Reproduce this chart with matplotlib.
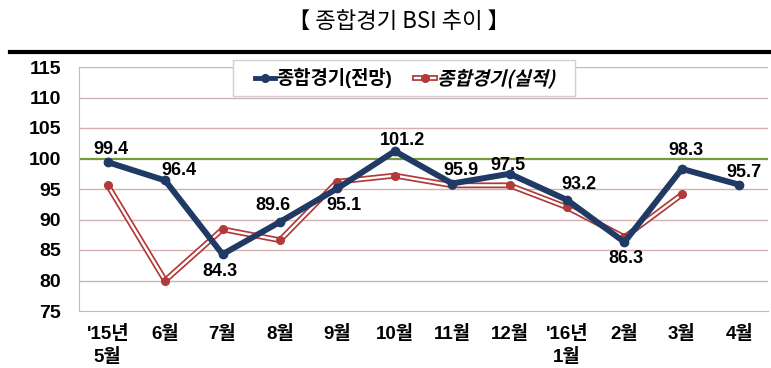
import matplotlib
matplotlib.use("Agg")
import matplotlib.pyplot as plt
from matplotlib.lines import Line2D
from matplotlib.patches import Rectangle, PathPatch
from matplotlib.textpath import TextPath
from matplotlib.font_manager import FontProperties
from matplotlib.transforms import Affine2D

plt.rcParams['font.family'] = ['Liberation Sans', 'Noto Sans CJK KR']

categories = ["'15년\n5월", "6월", "7월", "8월", "9월", "10월", "11월", "12월", "'16년\n1월", "2월", "3월", "4월"]
forecast = [99.4, 96.4, 84.3, 89.6, 95.1, 101.2, 95.9, 97.5, 93.2, 86.3, 98.3, 95.7]
actual = [95.6, 80.0, 88.4, 86.6, 96.2, 97.2, 95.6, 95.6, 92.0, 87.1, 94.1]
yticks = [75, 80, 85, 90, 95, 100, 105, 110, 115]
series_names = ["종합경기(전망)", "종합경기(실적)"]
title = "【 종합경기 BSI 추이 】"

# label offsets in pixels (style)
label_offsets = [(3, 13), (14, 10), (-3, -17), (-7, 16), (7, -17), (8, 11),
                 (9, 13), (-2, 8), (12, 15), (1, -16), (4, 18), (5, 12)]

W, H = 771, 368
fig = plt.figure(figsize=(W / 100, H / 100), dpi=100)
ax = fig.add_axes([79 / W, 1 - 311 / H, (768 - 79) / W, (311 - 67) / H])


def fx(px):
    return px / W


def fy(py):
    return 1 - py / H


x = list(range(len(categories)))
navy = '#1F3A64'
red = '#B23A3A'
grid_c = '#D6B0B0'

ax.set_xlim(-0.5, len(categories) - 0.5)
ax.set_ylim(75, 115)
ax.set_yticks(yticks)
for v in yticks[1:]:
    if v == 100:
        continue
    ax.axhline(v, color=grid_c, lw=1.0, zorder=1)
ax.axhline(100, color='#7A9A3A', lw=1.6, zorder=2)

for s in ['top', 'right']:
    ax.spines[s].set_visible(False)
ax.spines['left'].set_color('#BBBBBB')
ax.spines['bottom'].set_color('#BBBBBB')
ax.tick_params(length=0)
ax.tick_params(axis='y', pad=13)
ax.tick_params(axis='x', pad=10)
ax.set_yticklabels([str(v) for v in yticks], fontsize=14, fontweight='bold')
ax.set_xticks(x)
ax.set_xticklabels(categories, fontsize=13.5, fontweight='bold', linespacing=1.4)
for lbl in ax.get_xticklabels():
    lbl.set_verticalalignment('top')

xa = x[:len(actual)]
ax.plot(xa, actual, color=red, lw=4.2, zorder=3, solid_joinstyle='miter')
ax.plot(xa, actual, color='white', lw=1.7, zorder=4, solid_joinstyle='miter')
ax.plot(xa, actual, ls='none', marker='o', ms=5.5, color=red, zorder=5)

ax.plot(x, forecast, color=navy, lw=4.3, marker='o', ms=6, zorder=6)

for xi, v, (dx, dy) in zip(x, forecast, label_offsets):
    ax.annotate(f"{v:.1f}", (xi, v), xytext=(dx, dy), textcoords='offset pixels',
                ha='center', va='center', fontsize=13, fontweight='bold', zorder=7)

# legend drawn manually
lx0, lx1, ly0, ly1 = 233, 575, 60, 96
fig.add_artist(Rectangle((fx(lx0), fy(ly1)), fx(lx1) - fx(lx0), fy(ly0) - fy(ly1),
                         transform=fig.transFigure, facecolor='white',
                         edgecolor='#D0D0D0', lw=1.0, zorder=10))
ly = 78
fig.add_artist(Line2D([fx(255), fx(275)], [fy(ly), fy(ly)], color=navy, lw=3.5,
                      transform=fig.transFigure, zorder=11))
fig.add_artist(Line2D([fx(265)], [fy(ly)], color=navy, marker='o', ms=5.5,
                      transform=fig.transFigure, zorder=12))
fig.text(fx(276), fy(ly), series_names[0], ha='left', va='center', fontsize=13.5,
         fontweight='bold', zorder=12)
fig.add_artist(Line2D([fx(415), fx(435)], [fy(ly), fy(ly)], color=red, lw=4.2,
                      transform=fig.transFigure, zorder=11))
fig.add_artist(Line2D([fx(415), fx(435)], [fy(ly), fy(ly)], color='white', lw=1.7,
                      transform=fig.transFigure, zorder=12))
fig.add_artist(Line2D([fx(425)], [fy(ly)], color=red, marker='o', ms=5.5,
                      transform=fig.transFigure, zorder=13))
fp = FontProperties(family=['Noto Sans CJK KR'], weight='bold')
tp = TextPath((0, 0), series_names[1], size=18.8, prop=fp)
tr = Affine2D().skew_deg(14, 0).translate(437, H - ly - 7)
fig.add_artist(PathPatch(tp, transform=tr, facecolor='black', edgecolor='none',
                         zorder=13))

fig.text(399 / W, fy(21), title, ha='center', va='center', fontsize=16,
         fontweight='medium', family=['Noto Sans CJK KR', 'DejaVu Sans'])
fig.add_artist(Line2D([10 / W, 1.0], [fy(52), fy(52)], color='black', lw=3,
                      transform=fig.transFigure))

fig.savefig('out.png', dpi=100)
